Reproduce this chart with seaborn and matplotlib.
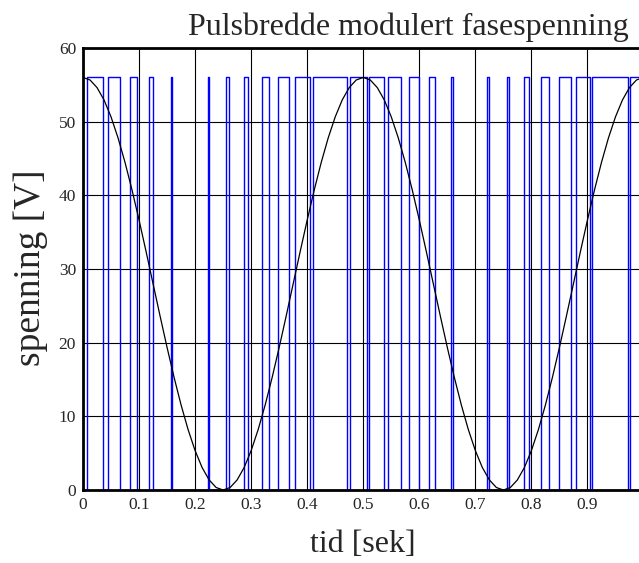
import numpy as np
import pandas as pd
import seaborn as sns
import matplotlib
matplotlib.use("Agg")
import matplotlib.pyplot as plt

# reference voltage (black curve), sampled every 0.0125 s over one period (0 .. 0.5 s)
ref_t_half = [0.0, 0.0125, 0.025, 0.0375, 0.05, 0.0625, 0.075, 0.0875, 0.1, 0.1125,
              0.125, 0.1375, 0.15, 0.1625, 0.175, 0.1875, 0.2, 0.2125, 0.225, 0.2375,
              0.25, 0.2625, 0.275, 0.2875, 0.3, 0.3125, 0.325, 0.3375, 0.35, 0.3625,
              0.375, 0.3875, 0.4, 0.4125, 0.425, 0.4375, 0.45, 0.4625, 0.475, 0.4875]
ref_v_half = [56, 55.66, 54.63, 52.95, 50.65, 47.80, 44.46, 40.71, 36.65, 32.38,
              28, 23.62, 19.35, 15.29, 11.54, 8.20, 5.35, 3.05, 1.37, 0.34,
              0, 0.34, 1.37, 3.05, 5.35, 8.20, 11.54, 15.29, 19.35, 23.62,
              28, 32.38, 36.65, 40.71, 44.46, 47.80, 50.65, 52.95, 54.63, 55.66]

# PWM pulses (blue): switch-on and switch-off times, level 56 V
pulse_on = [0.008, 0.045, 0.083, 0.118, 0.157, 0.2225, 0.255, 0.287, 0.319,
            0.348, 0.378, 0.411, 0.4764, 0.5103, 0.5442, 0.5816, 0.618,
            0.6566, 0.7208, 0.757, 0.787, 0.8166, 0.8498, 0.879, 0.9087, 0.9759]
pulse_off = [0.036, 0.066, 0.097, 0.124, 0.159, 0.2243, 0.261, 0.295, 0.332,
             0.368, 0.405, 0.4715, 0.5067, 0.537, 0.5674, 0.5986, 0.628,
             0.6593, 0.7244, 0.7595, 0.796, 0.8319, 0.8707, 0.9045, 0.9729, 1.0]
v_high = 56

xticks = [0, 0.1, 0.2, 0.3, 0.4, 0.5, 0.6, 0.7, 0.8, 0.9]
xtick_labels = ["0", "0.1", "0.2", "0.3", "0.4", "0.5", "0.6", "0.7", "0.8", "0.9"]
yticks = [0, 10, 20, 30, 40, 50, 60]

# the curve repeats every 0.5 s: two periods plus the end point
ref_t = ref_t_half + [t + 0.5 for t in ref_t_half] + [1.0]
ref_v = ref_v_half + ref_v_half + [56]

# build step series from the pulse list
pwm_t = [0.0]
pwm_v = [0]
for on, off in zip(pulse_on, pulse_off):
    pwm_t += [on, off]
    pwm_v += [v_high, 0]
pwm_df = pd.DataFrame({"t": pwm_t, "v": pwm_v})
ref_df = pd.DataFrame({"t": ref_t, "v": ref_v})

sns.set_style("white")
plt.rcParams["font.family"] = ["Liberation Serif", "DejaVu Serif"]

fig = plt.figure(figsize=(6.39, 5.63), dpi=100)
ax = fig.add_axes([83 / 639, 1 - 490 / 563, (643.5 - 83) / 639, (490 - 48) / 563])

sns.lineplot(data=pwm_df, x="t", y="v", ax=ax, color="#0000ff", lw=1.0,
             drawstyle="steps-post", estimator=None, sort=False)
sns.lineplot(data=ref_df, x="t", y="v", ax=ax, color="black", lw=0.9,
             estimator=None, sort=False)

ax.set_xlim(0, 1.0)
ax.set_ylim(0, 60)
ax.set_xticks(xticks)
ax.set_xticklabels(xtick_labels)
ax.set_yticks(yticks)
ax.grid(True, color="black", lw=0.8)
ax.set_axisbelow(True)
ax.tick_params(length=0, labelsize=12.5, pad=5)
for s in ax.spines.values():
    s.set_color("black")
    s.set_linewidth(2)

ax.set_xlabel("")
ax.set_ylabel("")
fig.text(363 / 639, 1 - 545 / 563, "tid [sek]", fontsize=23, ha="center", va="center")
fig.text(31 / 639, 1 - 268 / 563, "spenning [V]", fontsize=27, rotation=90,
         ha="center", va="center")
fig.text(408 / 639, 1 - 27 / 563, "Pulsbredde modulert fasespenning",
         fontsize=23, ha="center", va="center")

fig.savefig("out.png", dpi=100)
